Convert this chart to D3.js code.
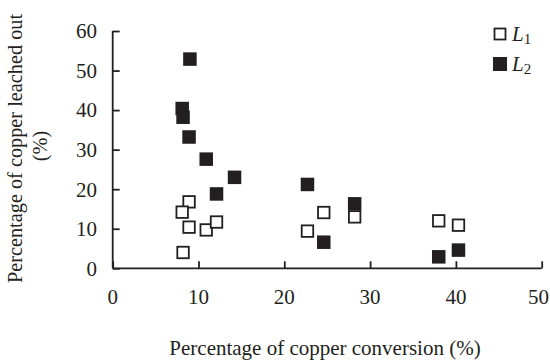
<!DOCTYPE html>
<html><head><meta charset="utf-8">
<script src="https://cdn.jsdelivr.net/npm/d3@7"></script>
<style>body{margin:0;background:#fff}svg{display:block}text{font-family:"Liberation Serif","Times New Roman",serif;fill:#231f20}</style>
</head><body><svg width="550" height="362"></svg>
<script>
const xTicks = [0,10,20,30,40,50];
const yTicks = [0,10,20,30,40,50,60];
const seriesNames = ["L1","L2"];
const L1x = [8.9, 8.1, 8.9, 10.9, 12.1, 8.2, 22.7, 24.6, 28.2, 38.0, 40.3];
const L1y = [16.8, 14.2, 10.4, 9.7, 11.7, 4.0, 9.4, 14.1, 13.0, 12.0, 10.9];
const L2x = [9.0, 8.1, 8.2, 8.9, 10.9, 14.2, 12.1, 22.7, 28.2, 24.6, 38.0, 40.3];
const L2y = [52.9, 40.4, 38.2, 33.2, 27.6, 23.0, 18.8, 21.2, 16.3, 6.6, 2.9, 4.6];

const svg = d3.select("svg");
const ink = "#231f20";
const fs = 21;
const x = d3.scaleLinear().domain([0,50]).range([112.7,541.7]);
const y = d3.scaleLinear().domain([0,60]).range([268.3,31]);

// axes
const gx = svg.append("g").attr("transform","translate(0,268.3)")
  .call(d3.axisBottom(x).tickValues(xTicks).tickSizeInner(-7).tickSizeOuter(0).tickFormat(""));
const gy = svg.append("g").attr("transform","translate(112.7,0)")
  .call(d3.axisLeft(y).tickValues(yTicks).tickSizeInner(-7).tickSizeOuter(0).tickFormat(""));
[gx,gy].forEach(g=>{g.selectAll("path,line").attr("stroke",ink).attr("stroke-width",1.8);});
gx.select(".domain").attr("d","M112.7,0H541.7");
gy.select(".domain").attr("d","M0,268.3V31");

svg.append("g").selectAll("text").data(xTicks).join("text")
  .attr("x",d=>Math.min(x(d),538.5)).attr("y",304).attr("text-anchor","middle")
  .attr("font-size",fs).text(d=>d);
svg.append("g").selectAll("text").data(yTicks).join("text")
  .attr("x",97).attr("y",d=>y(d)+7.3).attr("text-anchor","end")
  .attr("font-size",fs).text(d=>d);

svg.append("text").attr("x",325).attr("y",355).attr("text-anchor","middle")
  .attr("font-size",fs).text("Percentage of copper conversion (%)");
svg.append("text").attr("transform","translate(21.5,148.5) rotate(-90)").attr("text-anchor","middle")
  .attr("font-size",20.3).text("Percentage of copper leached out");
svg.append("text").attr("transform","translate(47,146) rotate(-90)").attr("text-anchor","middle")
  .attr("font-size",20.3).text("(%)");

// points
const s = 13.5;
svg.append("g").selectAll("rect").data(L2x.map((v,i)=>[v,L2y[i]])).join("rect")
  .attr("x",d=>x(d[0])-s/2).attr("y",d=>y(d[1])-s/2).attr("width",s).attr("height",s)
  .attr("fill",ink);
const so = 11.5;
svg.append("g").selectAll("rect").data(L1x.map((v,i)=>[v,L1y[i]])).join("rect")
  .attr("x",d=>x(d[0])-so/2).attr("y",d=>y(d[1])-so/2).attr("width",so).attr("height",so)
  .attr("fill","#fff").attr("stroke",ink).attr("stroke-width",1.8);

// legend
const lg = svg.append("g");
const legY = [34,64];
seriesNames.forEach((n,i)=>{
  if(i===0){
    lg.append("rect").attr("x",500-5.5).attr("y",legY[i]-5.5).attr("width",11).attr("height",11)
      .attr("fill","#fff").attr("stroke",ink).attr("stroke-width",1.8);
  } else {
    lg.append("rect").attr("x",500-7).attr("y",legY[i]-7).attr("width",14).attr("height",14).attr("fill",ink);
  }
  const t = lg.append("text").attr("x",512).attr("y",legY[i]+7).attr("font-size",fs);
  t.append("tspan").attr("font-style","italic").text(n[0]);
  t.append("tspan").attr("font-size",15).attr("dy",3).text(n.slice(1));
});
</script></body></html>
